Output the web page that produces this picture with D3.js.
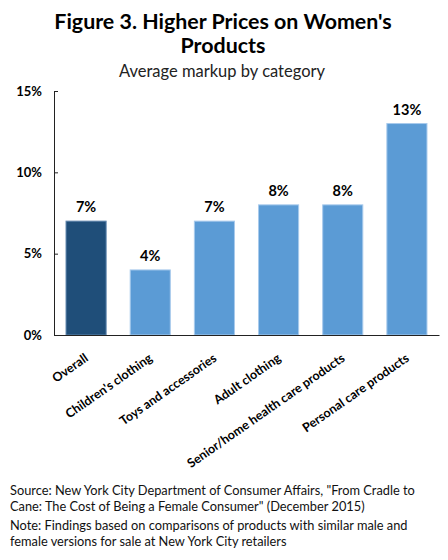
<!DOCTYPE html>
<html lang="en">
  <head>
    <meta charset="UTF-8" />
    <title>Figure 3. Higher Prices on Women's Products</title>
    <style>
      body {
        margin: 0;
        padding: 0;
        background-color: #ffffff;
      }
      #chart text {
        font-family: Lato, "Open Sans", sans-serif;
        fill: #000;
      }
    </style>
  </head>
  <body>
    <div id="chart"></div>

    <script src="https://d3js.org/d3.v7.min.js"></script>
    <script>
      const categories = [
        "Overall",
        "Children's clothing",
        "Toys and accessories",
        "Adult clothing",
        "Senior/home health care products",
        "Personal care products",
      ];
      const markup = [7, 4, 7, 8, 8, 13];
      const yTicks = [0, 5, 10, 15];
      const titleLines = ["Figure 3. Higher Prices on Women's", "Products"];
      const subtitle = "Average markup by category";
      const footLines = [
        'Source: New York City Department of Consumer Affairs, "From Cradle to',
        'Cane: The Cost of Being a Female Consumer" (December 2015)',
        "Note: Findings based on comparisons of products with similar male and",
        "female versions for sale at New York City retailers",
      ];

      const width = 448,
        height = 560;
      const margin = { top: 91, left: 54, right: 9 };
      const plotBottom = 335;

      const svg = d3
        .select("#chart")
        .append("svg")
        .attr("width", width)
        .attr("height", height);

      // titles
      svg
        .selectAll("text.title")
        .data(titleLines)
        .enter()
        .append("text")
        .attr("class", "title")
        .attr("x", width / 2 - 1)
        .attr("y", (d, i) => 29 + i * 24)
        .attr("text-anchor", "middle")
        .style("font-size", "21.4px")
        .style("font-weight", "bold")
        .text((d) => d);

      svg
        .append("text")
        .attr("x", width / 2 - 2)
        .attr("y", 77)
        .attr("text-anchor", "middle")
        .style("font-size", "16.5px")
        .style("fill", "#222")
        .text(subtitle);

      const x = d3
        .scaleBand()
        .domain(categories)
        .range([margin.left, width - margin.right])
        .paddingInner(0.375)
        .paddingOuter(0.1875);

      const y = d3
        .scaleLinear()
        .domain([0, 15])
        .range([plotBottom, margin.top]);

      // bars
      svg
        .selectAll("rect.bar")
        .data(markup)
        .enter()
        .append("rect")
        .attr("class", "bar")
        .attr("x", (d, i) => x(categories[i]))
        .attr("y", (d) => y(d))
        .attr("width", x.bandwidth())
        .attr("height", (d) => plotBottom - y(d))
        .style("fill", (d, i) => (i === 0 ? "#1f4e79" : "#5b9bd5"))
        .style("stroke", (d, i) => (i === 0 ? "#5f86ad" : "#a8caec"))
        .style("stroke-width", 1);

      // value labels
      svg
        .selectAll("text.value")
        .data(markup)
        .enter()
        .append("text")
        .attr("class", "value")
        .attr("x", (d, i) => x(categories[i]) + x.bandwidth() / 2)
        .attr("y", (d) => y(d) - 9)
        .attr("text-anchor", "middle")
        .style("font-size", "14.5px")
        .style("font-weight", "bold")
        .text((d) => d + "%");

      // y axis
      const yAxis = svg
        .append("g")
        .attr("transform", `translate(${margin.left},0)`)
        .call(
          d3
            .axisLeft(y)
            .tickValues(yTicks)
            .tickSizeInner(-4)
            .tickSizeOuter(0)
            .tickPadding(12)
            .tickFormat((d) => d + "%")
        );
      yAxis.select(".domain").attr("stroke", "#222");
      yAxis.selectAll(".tick line").attr("stroke", "#222");
      yAxis
        .selectAll("text")
        .style("font-size", "13px")
        .style("font-weight", "bold")
        .style("font-family", "Lato, sans-serif");

      // x axis
      const xAxis = svg
        .append("g")
        .attr("transform", `translate(0,${plotBottom})`)
        .call(d3.axisBottom(x).tickSize(0).tickSizeOuter(0).tickPadding(0));
      xAxis.select(".domain").attr("stroke", "#222");
      xAxis
        .selectAll("text")
        .attr("text-anchor", "end")
        .attr("y", 0)
        .attr("dy", null)
        .attr("transform", "translate(3,25) rotate(-35)")
        .style("font-size", "12.5px")
        .style("font-weight", "bold")
        .style("font-family", "Lato, sans-serif");

      // footnotes
      svg
        .selectAll("text.foot")
        .data(footLines)
        .enter()
        .append("text")
        .attr("class", "foot")
        .attr("x", 10)
        .attr("y", (d, i) => 495 + i * 15.5 + (i >= 2 ? 4 : 0))
        .style("font-size", "12.8px")
        .style("fill", "#111")
        .text((d) => d);
    </script>
  </body>
</html>
